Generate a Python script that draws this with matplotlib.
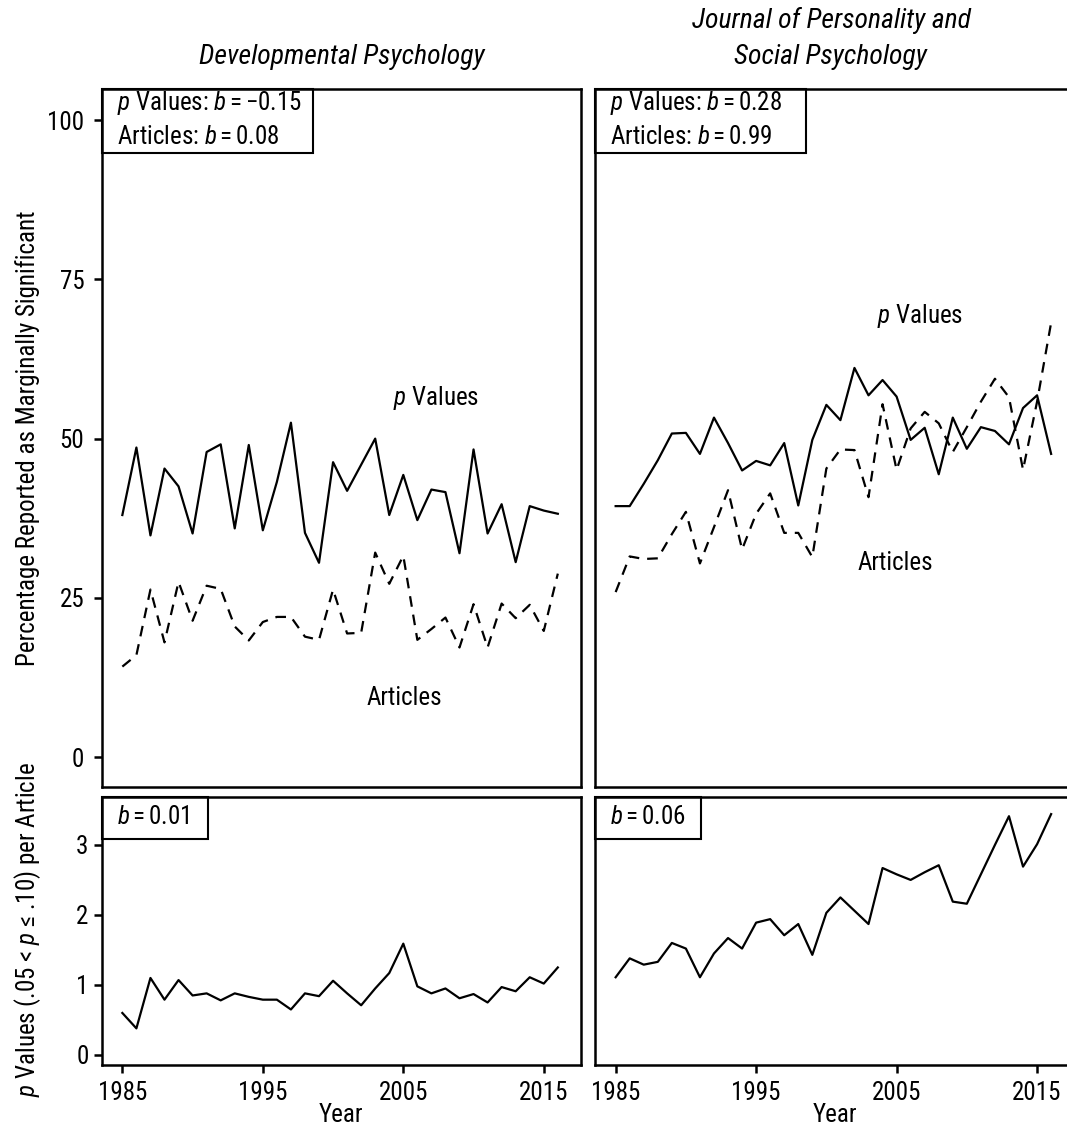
import matplotlib
matplotlib.use("Agg")
import matplotlib.pyplot as plt
from matplotlib import font_manager
from matplotlib.patches import Rectangle

# fuente condensada si existe
disponibles = {f.name for f in font_manager.fontManager.ttflist}
fuente = "Liberation Sans"
for nombre in ["Liberation Sans Narrow", "Roboto Condensed", "Liberation Sans"]:
    if nombre in disponibles:
        fuente = nombre
        break

plt.rcParams["font.family"] = [fuente, "DejaVu Sans"]
plt.rcParams["mathtext.fontset"] = "custom"
plt.rcParams["mathtext.it"] = fuente + ":italic"
plt.rcParams["mathtext.rm"] = fuente

years = list(range(1985, 2017))

dev_pvalues = [38.0, 48.6, 34.8, 45.3, 42.5, 35.1, 47.9, 49.1, 35.9, 49.0, 35.6, 43.2,
               52.5, 35.2, 30.5, 46.3, 41.8, 45.9, 50.0, 38.0, 44.3, 37.2, 42.0, 41.6,
               32.0, 48.3, 35.1, 39.7, 30.6, 39.4, 38.7, 38.2]
dev_articles = [14.2, 16.0, 26.3, 18.0, 27.5, 21.4, 26.9, 26.4, 20.5, 18.3, 21.2, 22.0,
                22.0, 18.9, 18.4, 26.3, 19.4, 19.5, 32.1, 27.2, 31.6, 18.4, 20.1, 21.9,
                17.2, 24.0, 17.2, 24.1, 21.8, 23.9, 19.8, 28.8]
jpsp_pvalues = [39.4, 39.4, 42.9, 46.6, 50.8, 50.9, 47.6, 53.3, 49.3, 45.0, 46.5, 45.8,
                49.3, 39.5, 49.8, 55.3, 52.9, 61.1, 56.8, 59.2, 56.6, 49.8, 51.7, 44.4,
                53.3, 48.4, 51.8, 51.2, 49.1, 54.8, 56.8, 47.6]
jpsp_articles = [25.9, 31.5, 31.1, 31.2, 35.0, 38.5, 30.4, 36.1, 41.9, 32.6, 38.2, 41.4,
                 35.2, 35.2, 31.4, 45.3, 48.3, 48.2, 40.8, 55.4, 45.1, 51.6, 54.2, 52.4,
                 47.9, 51.8, 55.8, 59.4, 56.5, 45.1, 55.8, 68.2]
dev_per_article = [0.60, 0.38, 1.10, 0.79, 1.07, 0.85, 0.88, 0.78, 0.88, 0.83, 0.79, 0.79,
                   0.65, 0.88, 0.84, 1.06, 0.88, 0.71, 0.95, 1.17, 1.59, 0.98, 0.88, 0.95,
                   0.81, 0.87, 0.75, 0.97, 0.91, 1.11, 1.02, 1.25]
jpsp_per_article = [1.11, 1.38, 1.29, 1.33, 1.60, 1.52, 1.11, 1.45, 1.67, 1.52, 1.89, 1.94,
                    1.71, 1.87, 1.43, 2.03, 2.25, 2.06, 1.87, 2.67, 2.58, 2.50, 2.61, 2.71,
                    2.19, 2.16, 2.58, 3.00, 3.41, 2.69, 3.01, 3.44]

top_labels = [["$p$ Values: $b = -0.15$", "Articles: $b = 0.08$"],
              ["$p$ Values: $b = 0.28$", "Articles: $b = 0.99$"]]
bottom_labels = ["$b = 0.01$", "$b = 0.06$"]
titles = ["Developmental Psychology", "Journal of Personality and", "Social Psychology"]
year_ticks = [1985, 1995, 2005, 2015]

W, H = 1067, 1129
fig = plt.figure(figsize=(W / 100, H / 100), dpi=100)


def caja(x0, y0, x1, y1):
    return [x0 / W, 1 - y1 / H, (x1 - x0) / W, (y1 - y0) / H]


ancho = 479.3
ax_tl = fig.add_axes(caja(101.7, 89, 101.7 + ancho, 786.7))
ax_tr = fig.add_axes(caja(595, 89, 595 + ancho, 786.7))
ax_bl = fig.add_axes(caja(101.7, 797.3, 101.7 + ancho, 1065))
ax_br = fig.add_axes(caja(595, 797.3, 595 + ancho, 1065))

lw_eje = 1.8
lw_linea = 1.6
fs = 18

for ax in [ax_tl, ax_tr, ax_bl, ax_br]:
    ax.set_xlim(1983.53, 2017.65)
    for s in ax.spines.values():
        s.set_linewidth(lw_eje)
    ax.tick_params(width=lw_eje, length=5.5, labelsize=fs, pad=3)

# paneles superiores
for ax, pv, art in [(ax_tl, dev_pvalues, dev_articles), (ax_tr, jpsp_pvalues, jpsp_articles)]:
    ax.plot(years, pv, color="black", lw=lw_linea)
    ax.plot(years, art, color="black", lw=lw_linea, dashes=(4.8, 3.6))
    ax.set_ylim(-4.66, 104.9)
    ax.set_yticks([0, 25, 50, 75, 100])
    ax.tick_params(axis="x", bottom=False, labelbottom=False)
    ax.tick_params(axis="y", pad=7)

# paneles inferiores
for ax, vals in [(ax_bl, dev_per_article), (ax_br, jpsp_per_article)]:
    ax.plot(years, vals, color="black", lw=lw_linea)
    ax.set_ylim(-0.143, 3.68)
    ax.set_yticks([0, 1, 2, 3])
    ax.set_xticks(year_ticks)
    ax.tick_params(axis="x", pad=6)
    ax.tick_params(axis="y", pad=4)
    ax.set_xlabel("Year", fontsize=fs, labelpad=-1.5)

for ax in [ax_tr, ax_br]:
    ax.tick_params(axis="y", left=False, labelleft=False)

# cajas con las pendientes
for ax, lineas in [(ax_tl, top_labels[0]), (ax_tr, top_labels[1])]:
    ax.add_patch(Rectangle((0, 1 - 64 / 697.7), 211 / ancho, 64 / 697.7, transform=ax.transAxes,
                           fill=False, lw=1.5, edgecolor="black", clip_on=False))
    ax.text(15 / ancho, 1 - 14 / 697.7, lineas[0], transform=ax.transAxes, fontsize=fs,
            va="center", ha="left")
    ax.text(15 / ancho, 1 - 48 / 697.7, lineas[1], transform=ax.transAxes, fontsize=fs,
            va="center", ha="left")

for ax, txt in [(ax_bl, bottom_labels[0]), (ax_br, bottom_labels[1])]:
    ax.add_patch(Rectangle((0, 1 - 42 / 267.7), 106 / ancho, 42 / 267.7, transform=ax.transAxes,
                           fill=False, lw=1.5, edgecolor="black", clip_on=False))
    ax.text(15 / ancho, 1 - 20 / 267.7, txt, transform=ax.transAxes, fontsize=fs,
            va="center", ha="left")

# etiquetas de las series
ax_tl.text(2007.3, 56.3, "$p$ Values", fontsize=fs, ha="center", va="center")
ax_tl.text(2005.1, 9.2, "Articles", fontsize=fs, ha="center", va="center")
ax_tr.text(2006.7, 69.2, "$p$ Values", fontsize=fs, ha="center", va="center")
ax_tr.text(2004.9, 30.4, "Articles", fontsize=fs, ha="center", va="center")

# titulos de columna
fig.text(341.5 / W, 1 - 57 / H, titles[0], fontsize=20, style="italic", ha="center", va="center")
fig.text(831 / W, 1 - 20 / H, titles[1], fontsize=20, style="italic", ha="center", va="center")
fig.text(831 / W, 1 - 57 / H, titles[2], fontsize=20, style="italic", ha="center", va="center")

fig.text(28 / W, 1 - 438 / H, "Percentage Reported as Marginally Significant", fontsize=fs,
         rotation=90, ha="center", va="center")
fig.text(28 / W, 1 - 930 / H, "$p$ Values (.05 < $p$ \u2264 .10) per Article", fontsize=fs,
         rotation=90, ha="center", va="center")

fig.savefig("out.png", dpi=100)
